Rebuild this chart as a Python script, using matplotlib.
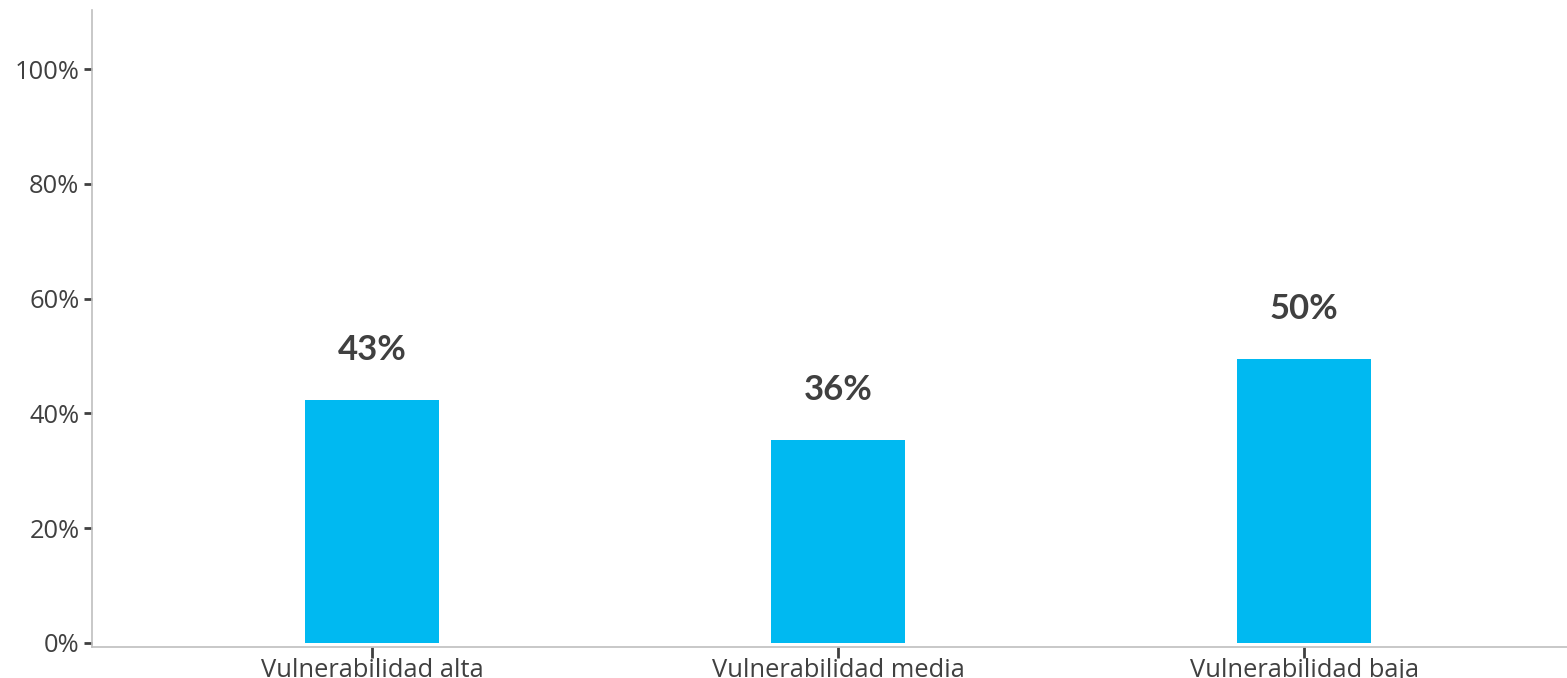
import matplotlib
matplotlib.use("Agg")
import matplotlib.pyplot as plt
from matplotlib.ticker import FuncFormatter

categories = ["Vulnerabilidad alta", "Vulnerabilidad media", "Vulnerabilidad baja"]
values = [0.423, 0.354, 0.494]
value_labels = ["43%", "36%", "50%"]
yticks = [0, 0.2, 0.4, 0.6, 0.8, 1.0]

fig = plt.figure(figsize=(15.67, 6.78), dpi=100)
ax = fig.add_axes([92/1567, 1-647/678, 1-92/1567, (647-10)/678])

x = list(range(len(categories)))
ax.bar(x, values, width=0.288, color="#00B9F1", zorder=2)

for xi, v, lab in zip(x, values, value_labels):
    ax.annotate(lab, (xi, v), xytext=(0, 36), textcoords="offset points",
                ha="center", va="center", fontsize=25, fontweight="bold",
                family="Lato", color="#404040")

ax.set_xlim(-0.601, 2.564)
ax.set_ylim(-0.007, 1.103)
ax.set_yticks(yticks)
ax.yaxis.set_major_formatter(FuncFormatter(lambda v, p: f"{v*100:.0f}%"))
ax.set_xticks(x)
ax.set_xticklabels(categories)

for lab in ax.get_yticklabels() + ax.get_xticklabels():
    lab.set_family("Open Sans")
    lab.set_fontsize(18.4)
    lab.set_color("#404040")

ax.tick_params(axis="y", direction="out", length=6, width=2, color="#404040", pad=3)
ax.tick_params(axis="x", direction="out", length=8, width=2, color="#404040", pad=0)

for s in ["top", "right"]:
    ax.spines[s].set_visible(False)
ax.spines["left"].set_color("#BFBFBF")
ax.spines["bottom"].set_color("#BFBFBF")
ax.spines["left"].set_linewidth(1.2)
ax.spines["bottom"].set_linewidth(1.2)

fig.savefig("out.png", dpi=100)
